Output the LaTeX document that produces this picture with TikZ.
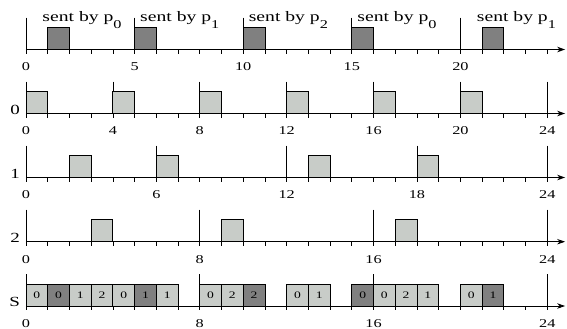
\documentclass[tikz,border=0pt]{standalone}
\usepackage{fontspec}
\setmainfont{Liberation Serif}
\usetikzlibrary{arrows.meta}
\definecolor{lightbox}{RGB}{200,204,200}
\definecolor{darkbox}{RGB}{128,128,128}
\newcommand{\sx}[1]{\scalebox{1.36}[1]{#1}}
\newcommand{\sentby}[1]{\sx{sent by p\raisebox{-6.5bp}{\fontsize{12}{12}\selectfont #1}}}
\tikzset{
  timeaxis/.style={line width=0.8bp, -{Stealth[length=8bp,width=5.5bp]}},
  tickline/.style={line width=0.7bp},
  lbox/.style={draw=black, line width=0.8bp, fill=lightbox},
  dbox/.style={draw=black, line width=0.8bp, fill=darkbox},
  ticklabel/.style={font=\fontsize{12}{12}\selectfont, inner sep=0pt},
  rowlabel/.style={font=\fontsize{14}{14}\selectfont, inner sep=0pt, anchor=base east},
  sentlabel/.style={font=\fontsize{14.5}{15}\selectfont, inner sep=0pt, anchor=base west},
  boxlabel/.style={font=\fontsize{10}{10}\selectfont, inner sep=0pt},
}
\begin{document}
\begin{tikzpicture}[x=21.72bp, y=1bp]
\useasboundingbox (-1.197,0) rectangle (24.908,-329);
% generic axis drawing
\foreach \Y/\tall/\nm in {-49.5/{0,5,10,15,20}/t, -113.5/{0,4,8,12,16,20,24}/a, -177.5/{0,6,12,18,24}/b, -241.7/{0,8,16,24}/c, -306/{0,8,16,24}/s}{
  \coordinate (\nm start) at (0,\Y);
  \coordinate (\nm end) at (24.82,\Y);
  \draw[timeaxis] (\nm start) -- (\nm end);
  \foreach \i in {1,...,24}{
    \draw[tickline] (\i,\Y) -- (\i,\Y-4);
  }
  \foreach \t in \tall{
    \draw[tickline] (\t,\Y+32) -- (\t,\Y-4);
    \node[ticklabel] (\nm lab\t) at (\t,\Y-17.5) {\sx{\t}};
  }
}
% top row boxes
\foreach \b in {1,5,10,15,21}{
  \draw[dbox] (\b,-49.5) rectangle ++(1,22);
}
\node[sentlabel] (s1) at (0.75,-21.7) {\sentby{0}};
\node[sentlabel] (s2) at (5.25,-21.7) {\sentby{1}};
\node[sentlabel] (s3) at (10.25,-21.7) {\sentby{2}};
\node[sentlabel] (s4) at (15.25,-21.7) {\sentby{0}};
\node[sentlabel] (s5) at (20.75,-21.7) {\sentby{1}};
% row 0
\foreach \b in {0,4,8,12,16,20}{
  \draw[lbox] (\b,-113.5) rectangle ++(1,22);
}
\node[rowlabel] (r0) at (-0.27,-114) {\sx{0}};
% row 1
\foreach \b in {2,6,13,18}{
  \draw[lbox] (\b,-177.5) rectangle ++(1,22);
}
\node[rowlabel] (r1) at (-0.27,-178) {\sx{1}};
% row 2
\foreach \b in {3,9,17}{
  \draw[lbox] (\b,-241.7) rectangle ++(1,22);
}
\node[rowlabel] (r2) at (-0.27,-242.2) {\sx{2}};
% schedule row
\foreach \b/\v/\st in {0/0/lbox,1/0/dbox,2/1/lbox,3/2/lbox,4/0/lbox,5/1/dbox,6/1/lbox,
  8/0/lbox,9/2/lbox,10/2/dbox,12/0/lbox,13/1/lbox,15/0/dbox,16/0/lbox,17/2/lbox,18/1/lbox,
  20/0/lbox,21/1/dbox}{
  \draw[\st] (\b,-306) rectangle ++(1,22);
  \node[boxlabel] (sb\b) at (\b+0.5,-295) {\sx{\v}};
}
\node[rowlabel] (rs) at (-0.27,-306.5) {\sx{S}};
\end{tikzpicture}
\end{document}
